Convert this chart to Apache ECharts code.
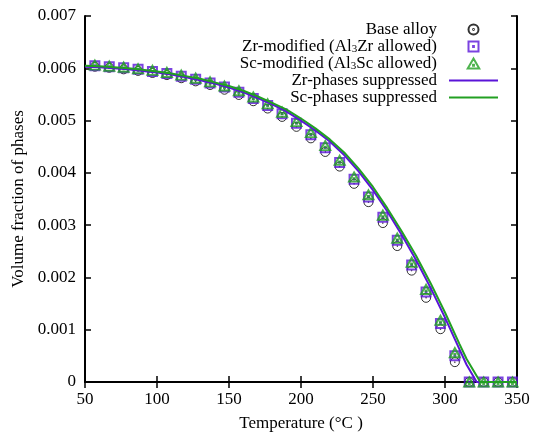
<!DOCTYPE html>
<html>
<head>
<meta charset="utf-8">
<script src="https://cdn.jsdelivr.net/npm/echarts@6/dist/echarts.min.js"></script>
<style>
html,body{margin:0;padding:0;background:#fff;}
#chart{width:534px;height:437px;}
</style>
</head>
<body>
<div id="chart"></div>
<script>
// ---- data ----
var seriesNames = ['Base alloy', 'Zr-modified (Al3Zr allowed)', 'Sc-modified (Al3Sc allowed)', 'Zr-phases suppressed', 'Sc-phases suppressed'];
var markerT = [56.85, 66.85, 76.85, 86.85, 96.85, 106.85, 116.85, 126.85, 136.85, 146.85,
               156.85, 166.85, 176.85, 186.85, 196.85, 206.85, 216.85, 226.85, 236.85, 246.85,
               256.85, 266.85, 276.85, 286.85, 296.85, 306.85, 316.85, 326.85, 336.85, 346.85];
var baseAlloy = [0.00603, 0.00601, 0.00598, 0.00595, 0.00591, 0.00587, 0.00581, 0.00575, 0.00568, 0.00559,
                 0.00549, 0.00537, 0.00523, 0.00507, 0.00488, 0.00466, 0.00440, 0.00412, 0.00379, 0.00344,
                 0.00304, 0.00260, 0.00213, 0.00161, 0.00101, 0.00038, 0, 0, 0, 0];
var zrModified = [0.00605, 0.00603, 0.00601, 0.00598, 0.00594, 0.00590, 0.00585, 0.00579, 0.00572, 0.00564,
                  0.00554, 0.00542, 0.00529, 0.00513, 0.00495, 0.00473, 0.00448, 0.00420, 0.00388, 0.00354,
                  0.00315, 0.00271, 0.00224, 0.00172, 0.00112, 0.00050, 0, 0, 0, 0];
var scModified = [0.00606, 0.00604, 0.00602, 0.00599, 0.00596, 0.00592, 0.00587, 0.00581, 0.00574, 0.00566,
                  0.00557, 0.00545, 0.00532, 0.00516, 0.00498, 0.00477, 0.00452, 0.00424, 0.00392, 0.00358,
                  0.00319, 0.00275, 0.00229, 0.00177, 0.00118, 0.00056, 0, 0, 0, 0];
var zrLineT = [50, 60, 70, 80, 90, 100, 110, 120, 130, 140, 150, 160, 170, 180, 190, 200, 210, 220, 230, 240,
               250, 260, 270, 280, 290, 300, 310, 315, 322, 350];
var zrLineV = [0.00603, 0.00602, 0.00600, 0.00598, 0.00595, 0.00592, 0.00588, 0.00583, 0.00577, 0.00571,
               0.00563, 0.00554, 0.00543, 0.00531, 0.00517, 0.00500, 0.00481, 0.00460, 0.00434, 0.00403,
               0.00367, 0.00326, 0.00281, 0.00233, 0.00180, 0.00123, 0.00063, 0.00033, 0, 0];
var scLineT = [50, 60, 70, 80, 90, 100, 110, 120, 130, 140, 150, 160, 170, 180, 190, 200, 210, 220, 230, 240,
               250, 260, 270, 280, 290, 300, 310, 315, 324.5, 350];
var scLineV = [0.00605, 0.00604, 0.00602, 0.00600, 0.00597, 0.00594, 0.00590, 0.00585, 0.00580, 0.00573,
               0.00566, 0.00557, 0.00546, 0.00534, 0.00521, 0.00504, 0.00485, 0.00464, 0.00439, 0.00408,
               0.00373, 0.00332, 0.00288, 0.00241, 0.00189, 0.00133, 0.00073, 0.00044, 0, 0];
var xTicks = [50, 100, 150, 200, 250, 300, 350];
var yTicks = [0, 0.001, 0.002, 0.003, 0.004, 0.005, 0.006, 0.007];
var legendLabels = {
  'Base alloy': 'Base alloy',
  'Zr-modified (Al3Zr allowed)': 'Zr-modified (Al{s|3}Zr allowed)',
  'Sc-modified (Al3Sc allowed)': 'Sc-modified (Al{s|3}Sc allowed)',
  'Zr-phases suppressed': 'Zr-phases suppressed',
  'Sc-phases suppressed': 'Sc-phases suppressed'
};

function pairs(xs, ys) { return xs.map(function (x, i) { return [x, ys[i]]; }); }

var FONT = 'Liberation Serif';
var PURPLE = '#5a14d8';
var GREEN = '#22a022';

var circleSym = 'path://M0,5a5,5 0 1,0 10,0a5,5 0 1,0 -10,0ZM4.6,5a0.4,0.4 0 1,0 0.8,0a0.4,0.4 0 1,0 -0.8,0Z';
var squareSym = 'path://M0,0H10V10H0ZM4.6,4.6H5.4V5.4H4.6Z';
var triSym = 'path://M5,0L10,8.66H0ZM4.6,5.4H5.4V6.2H4.6Z';
var lineIcon = 'path://M0,0H49V2H0Z';

var axisCommon = {
  axisLine: { show: true, lineStyle: { color: '#000', width: 2 } },
  axisTick: { show: true, inside: true, length: 6, lineStyle: { color: '#000', width: 1.5 } },
  splitLine: { show: false }
};

var chart = echarts.init(document.getElementById('chart'), null, { renderer: 'canvas' });
chart.setOption({
  animation: false,
  backgroundColor: '#fff',
  textStyle: { fontFamily: FONT },
  grid: { left: 85, right: 17, top: 16, bottom: 54, containLabel: false },
  legend: {
    orient: 'vertical',
    align: 'right',
    right: 36,
    top: 21,
    padding: 0,
    itemGap: 0,
    itemWidth: 49,
    itemHeight: 10,
    data: [
      { name: seriesNames[0] },
      { name: seriesNames[1] },
      { name: seriesNames[2] },
      { name: seriesNames[3], icon: lineIcon, itemStyle: { color: PURPLE, borderWidth: 0 } },
      { name: seriesNames[4], icon: lineIcon, itemStyle: { color: GREEN, borderWidth: 0 } }
    ],
    formatter: function (n) { return legendLabels[n]; },
    textStyle: {
      fontFamily: FONT, fontSize: 17, color: '#000', lineHeight: 17, padding: [0, 7, 0, 0],
      rich: { s: { fontFamily: FONT, fontSize: 11, color: '#000', lineHeight: 17, verticalAlign: 'bottom' } }
    },
    selectedMode: false
  },
  xAxis: [
    Object.assign({
      type: 'value', min: xTicks[0], max: xTicks[xTicks.length - 1], interval: 50, position: 'bottom',
      name: 'Temperature (°C )', nameLocation: 'middle', nameGap: 33,
      nameTextStyle: { fontFamily: FONT, fontSize: 17, color: '#000' },
      axisLabel: { fontFamily: FONT, fontSize: 17, color: '#000', margin: 9 }
    }, axisCommon),
    Object.assign({
      type: 'value', min: xTicks[0], max: xTicks[xTicks.length - 1], interval: 50, position: 'top',
      axisLabel: { show: false }
    }, axisCommon)
  ],
  yAxis: [
    Object.assign({
      type: 'value', min: yTicks[0], max: yTicks[yTicks.length - 1], interval: 0.001, position: 'left',
      name: 'Volume fraction of phases', nameLocation: 'middle', nameGap: 57,
      nameTextStyle: { fontFamily: FONT, fontSize: 17, color: '#000' },
      axisLabel: {
        fontFamily: FONT, fontSize: 17, color: '#000', margin: 9,
        formatter: function (v) { return v === 0 ? '0' : v.toFixed(3); }
      }
    }, axisCommon),
    Object.assign({
      type: 'value', min: yTicks[0], max: yTicks[yTicks.length - 1], interval: 0.001, position: 'right',
      axisLabel: { show: false }
    }, axisCommon)
  ],
  series: [
    {
      name: seriesNames[0], type: 'scatter', data: pairs(markerT, baseAlloy),
      symbol: circleSym, symbolSize: 9,
      itemStyle: { color: 'rgba(0,0,0,0)', borderColor: '#000', borderWidth: 1 }
    },
    {
      name: seriesNames[1], type: 'scatter', data: pairs(markerT, zrModified),
      symbol: squareSym, symbolSize: 9,
      itemStyle: { color: 'rgba(0,0,0,0)', borderColor: PURPLE, borderWidth: 2 }
    },
    {
      name: seriesNames[2], type: 'scatter', data: pairs(markerT, scModified),
      symbol: triSym, symbolSize: [10, 9],
      itemStyle: { color: 'rgba(0,0,0,0)', borderColor: GREEN, borderWidth: 2 }
    },
    {
      name: seriesNames[3], type: 'line', data: pairs(zrLineT, zrLineV),
      symbol: 'none', smooth: false,
      lineStyle: { color: PURPLE, width: 2 }, itemStyle: { color: PURPLE }
    },
    {
      name: seriesNames[4], type: 'line', data: pairs(scLineT, scLineV),
      symbol: 'none', smooth: false,
      lineStyle: { color: GREEN, width: 2 }, itemStyle: { color: GREEN }
    }
  ]
});
</script>
</body>
</html>
